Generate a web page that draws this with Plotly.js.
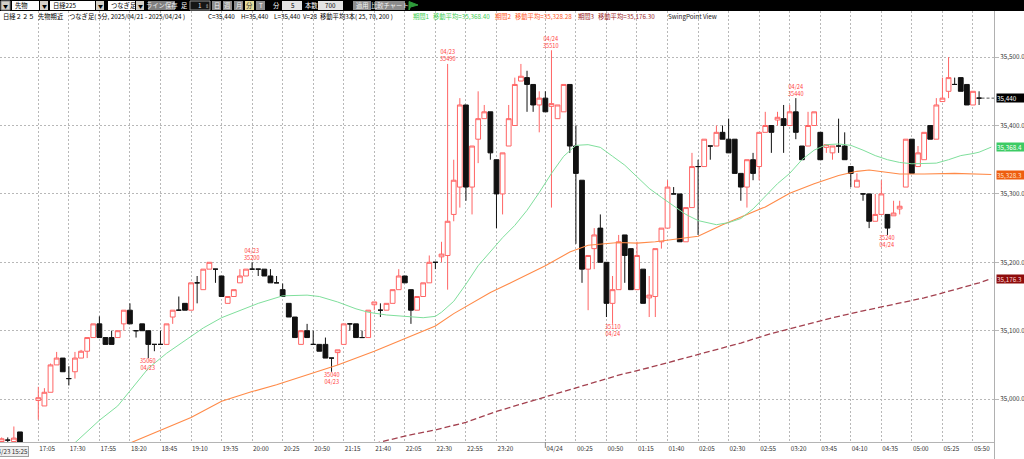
<!DOCTYPE html>
<html><head><meta charset="utf-8">
<script src="https://cdn.plot.ly/plotly-3.0.1.min.js"></script>
<style>html,body{margin:0;padding:0;background:#fff;overflow:hidden}#chart{width:1024px;height:459px}</style>
</head><body><div id="chart"></div>
<script>
// ---------------- DATA ----------------
// slot labels (4 day-session bars, 2 empty slots, night session 17:05-05:55, 2 trailing slots)
const times = (`15:10 15:15 15:20 15:25 _gapA _gapB
17:05 17:10 17:15 17:20 17:25 17:30 17:35 17:40 17:45 17:50 17:55
18:00 18:05 18:10 18:15 18:20 18:25 18:30 18:35 18:40 18:45 18:50 18:55
19:00 19:05 19:10 19:15 19:20 19:25 19:30 19:35 19:40 19:45 19:50 19:55
20:00 20:05 20:10 20:15 20:20 20:25 20:30 20:35 20:40 20:45 20:50 20:55
21:00 21:05 21:10 21:15 21:20 21:25 21:30 21:35 21:40 21:45 21:50 21:55
22:00 22:05 22:10 22:15 22:20 22:25 22:30 22:35 22:40 22:45 22:50 22:55
23:00 23:05 23:10 23:15 23:20 23:25 23:30 23:35 23:40 23:45 23:50 23:55
00:00 00:05 00:10 00:15 00:20 00:25 00:30 00:35 00:40 00:45 00:50 00:55
01:00 01:05 01:10 01:15 01:20 01:25 01:30 01:35 01:40 01:45 01:50 01:55
02:00 02:05 02:10 02:15 02:20 02:25 02:30 02:35 02:40 02:45 02:50 02:55
03:00 03:05 03:10 03:15 03:20 03:25 03:30 03:35 03:40 03:45 03:50 03:55
04:00 04:05 04:10 04:15 04:20 04:25 04:30 04:35 04:40 04:45 04:50 04:55
05:00 05:05 05:10 05:15 05:20 05:25 05:30 05:35 05:40 05:45 05:50 05:55
06:00 06:05`).trim().split(/\s+/);

const open = [34938,34940,34938,34952, null,null,
34998,34990,35010,35050,35060, 35030,35040,35060,35070,35090,
35110,35090,35090,35090,35110, 35130,35100,35110,35100,35080,
35080,35080,35120,35130,35140, 35130,35170,35160,35190,35190,
35180,35140,35150,35170,35180, 35190,35190,35190,35180,35170,
35160,35140,35120,35080,35100, 35080,35080,35080,35060,35068,
35080,35110,35110,35090,35090, 35138,35130,35130,35140,35160,
35180,35160,35130,35150,35170, 35200,35208,35210,35270,35310,
35430,35310,35380,35410,35420, 35350,35300,35370,35400,35465,
35470,35460,35430,35440,35428, 35410,35420,35460,35370,35320,
35190,35220,35250,35200,35140, 35160,35240,35220,35160,35190,
35148,35150,35230,35250,35300, 35300,35230,35280,35340,35340,
35370,35370,35390,35380,35380, 35330,35310,35350,35340,35390,
35400,35408,35410,35400,35420, 35370,35370,35400,35390,35368,
35360,35370,35370,35340,35310, 35300,35300,35260,35270,35270,
35268,35278,35310,35380,35340, 35350,35400,35380,35435,35450,
35460,35470,35460,35430,35440, null,null];
const high = [34944,34944,34960,34952, null,null,
35018,35016,35052,35069,35060, 35048,35069,35072,35090,35110,
35121,35090,35100,35100,35130, 35140,35100,35110,35100,35080,
35100,35110,35130,35150,35140, 35170,35180,35190,35200,35190,
35180,35150,35160,35190,35190, 35200,35190,35190,35190,35180,
35169,35140,35120,35100,35110, 35100,35080,35090,35060,35072,
35110,35110,35110,35100,35130, 35142,35140,35140,35160,35190,
35180,35160,35150,35170,35210, 35200,35230,35490,35350,35440,
35430,35370,35450,35430,35420, 35350,35360,35430,35470,35490,
35480,35460,35450,35450,35510, 35430,35460,35460,35400,35320,
35210,35250,35270,35200,35180, 35240,35240,35220,35230,35190,
35180,35220,35250,35320,35310, 35300,35280,35360,35350,35380,
35370,35400,35400,35410,35380, 35330,35350,35360,35390,35420,
35400,35420,35430,35430,35440, 35370,35420,35420,35390,35372,
35370,35410,35390,35340,35330, 35300,35300,35300,35320,35270,
35290,35290,35380,35380,35370, 35390,35400,35440,35470,35500,
35470,35470,35460,35450,35450, null,null];
const low = [34936,34936,34936,34925, null,null,
34970,34990,35010,35050,35040, 35020,35030,35060,35060,35090,
35090,35080,35080,35090,35100, 35110,35090,35100,35060,35070,
35080,35080,35110,35130,35130, 35130,35140,35160,35190,35170,
35150,35140,35150,35170,35180, 35190,35180,35180,35170,35170,
35150,35120,35090,35080,35090, 35080,35070,35060,35040,35050,
35080,35100,35090,35090,35090, 35130,35120,35130,35140,35160,
35170,35110,35130,35150,35170, 35190,35200,35160,35260,35280,
35290,35270,35345,35410,35350, 35250,35270,35370,35400,35465,
35420,35420,35390,35420,35280, 35410,35420,35360,35227,35170,
35130,35190,35200,35120,35110, 35160,35170,35160,35160,35140,
35120,35120,35220,35250,35300, 35230,35230,35280,35240,35340,
35350,35370,35380,35360,35330, 35290,35280,35320,35320,35390,
35360,35400,35360,35400,35380, 35350,35370,35400,35350,35360,
35350,35360,35350,35310,35310, 35290,35250,35260,35270,35240,
35268,35270,35310,35330,35340, 35350,35380,35380,35435,35440,
35460,35450,35430,35430,35430, null,null];
const close = [34942,34940,34943,34930, null,null,
35002,35010,35050,35060,35040, 35030,35060,35070,35090,35110,
35090,35080,35080,35100,35130, 35110,35100,35100,35080,35080,
35080,35110,35130,35130,35130, 35170,35170,35190,35200,35190,
35150,35150,35160,35180,35190, 35190,35190,35180,35170,35170,
35150,35120,35090,35100,35090, 35080,35070,35060,35060,35072,
35110,35110,35090,35090,35130, 35142,35130,35140,35160,35180,
35170,35130,35150,35170,35200, 35200,35212,35260,35320,35430,
35310,35370,35410,35420,35360, 35300,35360,35410,35460,35472,
35460,35430,35440,35420,35432, 35430,35460,35370,35330,35190,
35210,35240,35200,35140,35160, 35230,35210,35160,35210,35140,
35152,35220,35250,35310,35300, 35230,35280,35340,35340,35380,
35370,35390,35380,35360,35330, 35310,35350,35330,35390,35400,
35390,35412,35400,35420,35390, 35350,35400,35420,35350,35372,
35370,35370,35350,35330,35320, 35300,35260,35270,35300,35250,
35272,35282,35380,35330,35360, 35390,35380,35430,35440,35470,
35460,35450,35430,35450,35440, null,null];

// moving averages
const ma25Times = ["17:30","17:55","18:10","18:25","18:35","18:50","19:05","19:20","19:35","19:50","20:05","20:25","20:45","20:55","21:10","21:25","21:35","21:50","22:05","22:20","22:30","22:35","22:45","22:55","23:05","23:15","23:25","23:35","23:45","23:55","00:05","00:15","00:25","00:35","00:45","00:55","01:05","01:15","01:25","01:35","01:45","01:55","02:05","02:20","02:30","02:40","02:50","03:00","03:10","03:20","03:30","03:40","03:50","04:00","04:10","04:20","04:30","04:40","04:50","05:00","05:10","05:20","05:30","05:40","05:50","05:55","06:05"];
const ma25 = [34928,34969,34990,35022,35045,35067,35085,35104,35119,35129,35140,35151,35152,35150,35142,35132,35127,35123,35121,35119,35121,35127,35143,35168,35195,35215,35236,35254,35276,35302,35330,35355,35371,35372,35368,35355,35342,35325,35308,35295,35282,35270,35261,35255,35258,35264,35278,35297,35315,35330,35350,35364,35372,35373,35371,35364,35356,35350,35346,35344,35344,35345,35350,35356,35359,35361,35368.4];
const ma70Times = ["18:15","18:45","19:10","19:35","20:00","20:20","20:45","21:10","21:40","22:05","22:30","22:45","23:00","23:15","23:35","00:00","00:20","00:35","01:00","01:15","01:30","01:45","02:05","02:25","02:45","03:00","03:20","03:40","04:00","04:15","04:25","04:35","04:50","05:10","05:35","06:05"];
const ma70 = [34932,34955,34973,34997,35011,35021,35035,35050,35070,35088,35107,35125,35141,35156,35173,35195,35215,35225,35229,35228,35230,35233,35238,35255,35270,35281,35301,35315,35327,35333,35335,35333,35329,35329,35330,35328.28];
const ma200Times = ["21:40","22:05","22:30","22:55","23:20","23:45","00:10","00:35","01:00","01:25","01:50","02:15","02:40","03:05","03:30","03:55","04:20","04:45","05:10","05:35","05:55","06:05"];
const ma200 = [34935,34946,34955,34966,34982,34995,35008,35022,35035,35046,35058,35070,35082,35096,35108,35119,35129,35139,35148,35160,35170,35176.3];

// axis ticks
const tickTimes  = ["17:05","17:30","17:55","18:20","18:45","19:10","19:35","20:00","20:25","20:50","21:15","21:40","22:05","22:30","22:55","23:20","00:00","00:25","00:50","01:15","01:40","02:05","02:30","02:55","03:20","03:45","04:10","04:35","05:00","05:25","05:50"];
const tickLabels = ["17:05","17:30","17:55","18:20","18:45","19:10","19:35","20:00","20:25","20:50","21:15","21:40","22:05","22:30","22:55","23:20","04/24","00:25","00:50","01:15","01:40","02:05","02:30","02:55","03:20","03:45","04:10","04:35","05:00","05:25","05:50"];
const priceTicks = [35000,35100,35200,35300,35400,35500];

// swing points
const swingTimes = ["18:35","20:00","21:05","22:40","00:05","00:55","03:25","04:40"];
const swingDates = ["04/23","04/23","04/23","04/23","04/24","04/24","04/24","04/24"];
const swingKind  = ["L","H","L","H","H","L","H","L"];

// header values
const lastC = 35440, lastH = 35440, lastL = 35440, lastV = 28;
const maPeriods = [25, 70, 200];
const maLast = [35368.40, 35328.28, 35176.30];

// ---------------- DRAW ----------------
const FONT = '"Noto Sans CJK JP", "Noto Sans", sans-serif';
const W = 1024, H = 459;
const P = px => px / W, Q = py => 1 - py / H;
const idx = t => times.indexOf(t);
const xs = times.map((t, i) => i);
const xRange = [-0.27, 162.44];
const yRange = [34937.3, 35567.4];

const RED = '#ff6464', BLK = '#111111';
function candleTrace(sel, color, fill) {
  const o = [], h = [], l = [], c = [];
  for (let i = 0; i < times.length; i++) {
    const ok = open[i] != null && sel(open[i], close[i]);
    o.push(ok ? open[i] : null); h.push(ok ? high[i] : null);
    l.push(ok ? low[i] : null);  c.push(ok ? close[i] : null);
  }
  const st = {line: {color: color, width: 1}, fillcolor: fill};
  return {type: 'candlestick', x: xs, open: o, high: h, low: l, close: c,
    increasing: st, decreasing: st, whiskerwidth: 0, hoverinfo: 'skip', showlegend: false};
}
const traces = [
  {type: 'scatter', mode: 'lines', x: ma200Times.map(idx), y: ma200, line: {color: '#a3414f', width: 1.3, dash: '6px,3px'}, hoverinfo: 'skip'},
  {type: 'scatter', mode: 'lines', x: ma70Times.map(idx), y: ma70, line: {color: '#ff8a48', width: 1.1}, hoverinfo: 'skip'},
  {type: 'scatter', mode: 'lines', x: ma25Times.map(idx), y: ma25, line: {color: '#7fdf9c', width: 1}, hoverinfo: 'skip'},
  candleTrace((o, c) => c > o, RED, '#ffffff'),
  candleTrace((o, c) => c <= o, BLK, BLK)
];

const shapes = [], annotations = [];
function rect(x0, y0, x1, y1, fill, line) {
  shapes.push({type: 'rect', xref: 'paper', yref: 'paper', x0: P(x0), x1: P(x1), y0: Q(y1), y1: Q(y0),
    fillcolor: fill, line: {color: line || fill, width: line ? 1 : 0}, layer: 'above'});
}
function label(x, y, text, color, anchor, size, family) {
  annotations.push({xref: 'paper', yref: 'paper', x: P(x), y: Q(y), text: text, showarrow: false,
    xanchor: anchor || 'left', yanchor: 'middle', borderpad: 0,
    font: {family: family || FONT, size: size || 6.3, color: color || '#000'}});
}

// toolbar
rect(0, 0, 1024, 11, '#000000');
rect(1, 1, 10, 10, '#d4d0c8', '#808080'); label(5.5, 5.8, '▼', '#000', 'center', 5);
rect(12, 1, 39, 10, '#ffffff'); label(14, 5.8, '先物');
rect(40, 1, 48, 10, '#d4d0c8'); label(44, 5.8, '▼', '#000', 'center', 5);
rect(50, 1, 95, 10, '#ffffff'); label(52, 5.8, '日経225');
rect(96, 1, 104, 10, '#d4d0c8'); label(100, 5.8, '▼', '#000', 'center', 5);
rect(108, 1, 135, 10, '#ffffff'); label(110, 5.8, 'つなぎ足');
rect(136, 1, 144, 10, '#d4d0c8'); label(140, 5.8, '▼', '#000', 'center', 5);
rect(148, 1, 175, 10, '#808080'); label(161.5, 5.8, 'ライン保存', '#f0f0f0', 'center');
label(180, 5.8, '足', '#ffffff');
rect(190, 1, 210, 10, '#151515', '#909090'); label(203, 5.8, '1', '#dddddd', 'right'); label(207, 5.8, '⇕', '#bbbbbb', 'center', 5);
[['日', 212, '#8c8c8c'], ['週', 223, '#8c8c8c'], ['月', 234, '#8c8c8c'], ['分', 245, '#e6dc9a'], ['T', 256, '#8c8c8c']].forEach(b => {
  rect(b[1], 1, b[1] + 9, 10, b[2]); label(b[1] + 4.5, 5.8, b[0], b[0] === '分' ? '#333' : '#f4f4f4', 'center');
});
label(272, 5.8, '分', '#ffffff');
rect(282, 1, 302, 10, '#e4e4e4'); label(296, 5.8, '5', '#000', 'right');
label(304, 5.8, '本数', '#ffffff');
rect(318, 1, 343, 10, '#e4e4e4'); label(337, 5.8, '700', '#000', 'right');
rect(353, 1, 371, 10, '#8c8c8c'); label(362, 5.8, '適用', '#f4f4f4', 'center');
rect(375, 1, 405, 10, '#8c8c8c'); label(390, 5.8, '比較チャート', '#f4f4f4', 'center');
shapes.push({type: 'path', xref: 'paper', yref: 'paper', layer: 'above',
  path: `M ${P(409)} ${Q(10)} L ${P(409)} ${Q(1.5)} L ${P(418)} ${Q(5)} L ${P(410.5)} ${Q(7)} Z`,
  fillcolor: '#2e9a3a', line: {color: '#2e9a3a', width: 1}});

// header line
const f1 = v => v.toLocaleString('en-US', {minimumFractionDigits: 0});
const f2 = v => v.toLocaleString('en-US', {minimumFractionDigits: 2, maximumFractionDigits: 2});
const HY = 16.5;
label(2, HY, '日経２２５');
label(37, HY, '先物期近');
label(68, HY, 'つなぎ足( 5分, 2025/04/21 - 2025/04/24 )');
label(207, HY, 'C=' + f1(lastC)); label(240, HY, 'H=' + f1(lastH)); label(273, HY, 'L=' + f1(lastL)); label(302, HY, 'V=' + lastV);
label(319, HY, '移動平均3本( ' + maPeriods.join(', ') + ' )');
const maCols = ['#3fcf55', '#ff5a28', '#9c1f1f'];
const maX = [[412, 432], [494, 514], [577, 597]];
for (let i = 0; i < 3; i++) {
  label(maX[i][0], HY, '期間' + (i + 1), maCols[i]);
  label(maX[i][1], HY, '移動平均=' + f2(maLast[i]), maCols[i]);
}
label(667, HY, 'SwingPoint View', '#222');

// swing point labels (two-line blocks)
const SW = '#ff4040';
swingTimes.forEach((t, i) => {
  const x = idx(t), isH = swingKind[i] === 'H';
  const v = isH ? high[x] : low[x];
  const text = isH ? swingDates[i] + '<br>' + v : v + '<br>' + swingDates[i];
  annotations.push({xref: 'x', yref: 'y', x: x, y: v, text: text, showarrow: false,
    xanchor: 'center', yanchor: 'middle', yshift: isH ? 8 : -6.3, borderpad: 0,
    font: {family: FONT, size: 5.6, color: SW}});
});

// right side value tags
const lastIdx = idx('05:55');
const tags = [
  [close[lastIdx], f1(close[lastIdx]), '#000000', '#ffffff'],
  [maLast[0], maLast[0].toLocaleString('en-US', {minimumFractionDigits: 1, maximumFractionDigits: 1}), '#3ccb64', '#ffffff'],
  [maLast[1], maLast[1].toLocaleString('en-US', {minimumFractionDigits: 1, maximumFractionDigits: 1}), '#ee5e10', '#ffe0c8'],
  [maLast[2], maLast[2].toLocaleString('en-US', {minimumFractionDigits: 1, maximumFractionDigits: 1}), '#8e0d0d', '#ffd8d8']
];
tags.forEach(tg => annotations.push({xref: 'paper', yref: 'y', x: P(996), y: tg[0], text: tg[1], showarrow: false,
  xanchor: 'left', yanchor: 'middle', align: 'left', width: 34, height: 8, bgcolor: tg[2], borderpad: 0,
  font: {family: FONT, size: 6.3, color: tg[3]}}));
shapes.push({type: 'line', xref: 'x', yref: 'y', x0: lastIdx + 0.4, x1: xRange[1], y0: close[lastIdx], y1: close[lastIdx],
  line: {color: '#555', width: 1, dash: '3px,2px'}});

// bottom-left boxed time label (clipped by the left edge as in the original), 04/24 tick, right frame extension
annotations.push({xref: 'x', yref: 'paper', x: idx('15:25'), xshift: 9, y: Q(451), text: '04/23 15:25', showarrow: false,
  xanchor: 'right', yanchor: 'middle', bgcolor: '#efefef', bordercolor: '#a0a0a0', borderwidth: 1, borderpad: 0,
  font: {family: FONT, size: 6.3, color: '#333'}});
shapes.push({type: 'line', xref: 'x', yref: 'paper', x0: idx('00:00'), x1: idx('00:00'), y0: Q(448), y1: Q(442), line: {color: '#888', width: 1}});
shapes.push({type: 'line', xref: 'paper', yref: 'paper', x0: P(994.5), x1: P(994.5), y0: 0, y1: Q(11), line: {color: '#b0b0b0', width: 1}});

const layout = {
  width: W, height: H, margin: {l: 0, r: 0, t: 0, b: 0, pad: 0},
  paper_bgcolor: '#ffffff', plot_bgcolor: '#ffffff', showlegend: false, hovermode: false,
  boxgap: 0.22, boxgroupgap: 0,
  xaxis: {domain: [0, 994 / W], range: xRange, tickmode: 'array', tickvals: tickTimes.map(idx), ticktext: tickLabels,
    ticklabelposition: 'outside right', ticks: 'outside', ticklen: 3, tickcolor: 'rgba(0,0,0,0)',
    showgrid: true, gridcolor: '#b8b8b8', griddash: '2px,2px', gridwidth: 1, zeroline: false,
    showline: true, linecolor: '#b4b4b4', linewidth: 1, rangeslider: {visible: false}, fixedrange: true,
    tickfont: {family: FONT, size: 6.3, color: '#333'}},
  yaxis: {domain: [1 - 442 / H, 1 - 11 / H], range: yRange, side: 'right', anchor: 'x', tickmode: 'array', tickvals: priceTicks,
    tickformat: ',.1f', ticks: 'outside', ticklen: 4, tickcolor: '#b8b8b8',
    showgrid: true, gridcolor: '#b8b8b8', griddash: '2px,2px', gridwidth: 1, zeroline: false,
    showline: false, fixedrange: true, tickfont: {family: FONT, size: 6.3, color: '#333'}},
  shapes: shapes, annotations: annotations
};
Plotly.newPlot('chart', traces, layout, {staticPlot: true, displayModeBar: false});
</script></body></html>
